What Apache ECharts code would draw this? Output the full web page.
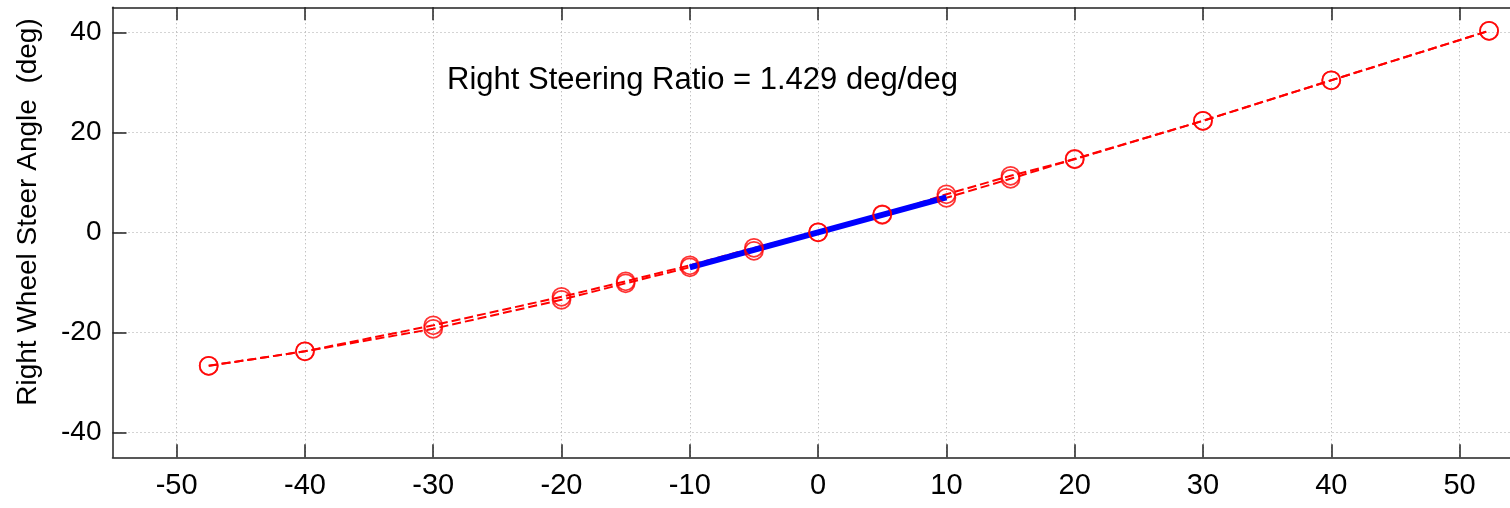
<!DOCTYPE html>
<html><head><meta charset="utf-8">
<script src="https://cdn.jsdelivr.net/npm/echarts@6/dist/echarts.min.js"></script>
<style>html,body{margin:0;padding:0;background:#fff}#c{width:1510px;height:508px}</style>
</head><body><div id="c"></div>
<script>
// ---- data ----
const handWheelAngle = [-47.5, -40, -30, -20, -15, -10, -5, 0, 5, 10, 15, 20, 30, 40, 52.3];
const wheelAngleRunA = [-26.7, -23.8, -18.6, -12.9, -9.8, -6.6, -3.1, 0, 3.5, 7.6, 11.3, 14.6, 22.3, 30.4, 40.3];
const wheelAngleRunB = [-26.7, -23.8, -19.3, -13.5, -10.2, -7.0, -3.7, 0, 3.6, 6.9, 10.7, 14.7, 22.3, 30.4, 40.3];
const fitX = [-10, 10];
const fitY = [-7.0, 7.0];
const xTicks = [-50, -40, -30, -20, -10, 0, 10, 20, 30, 40, 50];
const yTicks = [-40, -20, 0, 20, 40];
const annotationText = 'Right Steering Ratio = 1.429 deg/deg';
const yLabelText = 'Right Wheel Steer Angle  (deg)';

const FONT = "'Liberation Sans', Arial, Helvetica, sans-serif";
const AX = '#222222';
const pairs = (xs, ys) => xs.map((x, i) => [x, ys[i]]);

const axisLine = { show: true, onZero: false, lineStyle: { color: AX, width: 1.5 } };
const gridLine = { show: true, lineStyle: { type: [1, 3], color: '#a8a8a8', width: 1 } };

const chart = echarts.init(document.getElementById('c'), null, { renderer: 'canvas' });
chart.setOption({
  animation: false,
  backgroundColor: '#ffffff',
  grid: { left: 112.5, right: -13.7, top: 7.3, bottom: 50.7, containLabel: false, outerBoundsMode: 'none' },
  xAxis: [
    { type: 'value', min: -55, max: 55, position: 'bottom',
      axisLine: axisLine,
      axisTick: { show: true, inside: true, length: 13, customValues: xTicks, lineStyle: { color: AX, width: 1.5 } },
      axisLabel: { show: true, customValues: xTicks, fontSize: 29, color: '#000', margin: 14, fontFamily: FONT },
      splitLine: gridLine },
    { type: 'value', min: -55, max: 55, position: 'top',
      axisLine: axisLine,
      axisTick: { show: true, inside: true, length: 13, customValues: xTicks, lineStyle: { color: AX, width: 1.5 } },
      axisLabel: { show: false },
      splitLine: { show: false } }
  ],
  yAxis: [
    { type: 'value', min: -45, max: 45, position: 'left',
      axisLine: axisLine,
      axisTick: { show: true, inside: true, length: 14, customValues: yTicks, lineStyle: { color: AX, width: 1.5 } },
      axisLabel: { show: true, customValues: yTicks, fontSize: 28, color: '#000', margin: 11, fontFamily: FONT },
      splitLine: gridLine }
  ],
  graphic: [
    { type: 'text', left: 447, top: 65, z: 100,
      style: { text: annotationText, fontSize: 31, fontFamily: FONT, fill: '#000' } },
    { type: 'text', x: 28, y: 212, rotation: Math.PI / 2, z: 100,
      style: { text: yLabelText, fontSize: 28, fontFamily: FONT, fill: '#000', align: 'center', verticalAlign: 'middle' } }
  ],
  series: [
    { type: 'line', data: pairs(handWheelAngle, wheelAngleRunA), showSymbol: false, z: 2,
      lineStyle: { color: '#ff0000', width: 2, type: [9, 4] } },
    { type: 'line', data: pairs(handWheelAngle, wheelAngleRunB), showSymbol: false, z: 2,
      lineStyle: { color: '#ff0000', width: 2, type: [9, 4] } },
    { type: 'line', data: pairs(fitX, fitY), showSymbol: false, z: 3,
      lineStyle: { color: '#0000ff', width: 6 } },
    { type: 'scatter', data: pairs(handWheelAngle, wheelAngleRunA), symbol: 'circle', symbolSize: 18, z: 4,
      itemStyle: { color: 'rgba(0,0,0,0)', borderColor: '#ff0000', borderWidth: 1.8 } },
    { type: 'scatter', data: pairs(handWheelAngle, wheelAngleRunB), symbol: 'circle', symbolSize: 18, z: 4,
      itemStyle: { color: 'rgba(0,0,0,0)', borderColor: '#ff0000', borderWidth: 1.8 } }
  ]
});
</script>
</body></html>
